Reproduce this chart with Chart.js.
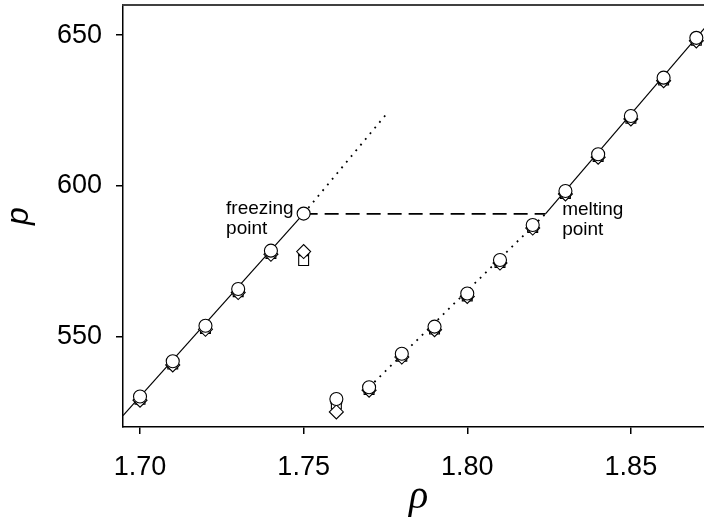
<!DOCTYPE html>
<html>
<head>
<meta charset="utf-8">
<style>
html,body{margin:0;padding:0;background:#fff;overflow:hidden;width:704px;height:521px}
#wrap{position:relative;width:714px;height:521px}
</style>
<script src="https://cdn.jsdelivr.net/npm/chart.js@4/dist/chart.umd.min.js"></script>
</head>
<body>
<div id="wrap"><canvas id="c" width="714" height="521"></canvas></div>
<script>
// ---- data ----
const densities = [1.70, 1.71, 1.72, 1.73, 1.74, 1.75, 1.76, 1.77, 1.78, 1.79, 1.80, 1.81, 1.82, 1.83, 1.84, 1.85, 1.86, 1.87];
const pCircle   = [530.1, 541.8, 553.6, 565.8, 578.5, 590.8, 529.3, 533.2, 544.3, 553.3, 564.3, 575.4, 587.0, 598.3, 610.5, 623.2, 635.9, 649.1];
const pDiamond  = [528.9, 540.6, 552.4, 564.6, 577.3, 578.2, 525.0, 532.2, 543.2, 552.3, 563.3, 574.4, 586.0, 597.3, 609.5, 622.2, 634.9, 648.1];
const pSquare   = [529.2, 540.9, 552.7, 564.9, 577.6, 575.2, 527.6, 532.4, 543.5, 552.5, 563.5, 574.6, 586.2, 597.5, 609.7, 622.4, 635.1, 648.3];
const pTriangle = [529.0, 540.7, 552.5, 564.7, 577.4, 576.4, 526.8, 532.3, 543.1, 552.4, 563.4, 574.5, 586.1, 597.4, 609.6, 622.3, 635.0, 648.2];

const freezeSolidRho = [1.6948, 1.75];
const freezeSolidP   = [523.8, 590.8];
const freezeDotRho   = [1.75, 1.7752];
const freezeDotP     = [590.8, 623.7];
const coexRho        = [1.75, 1.8239];
const coexP          = [590.7, 590.7];
const meltDotRho     = [1.77, 1.8239];
const meltDotP       = [533.2, 590.7];
const meltSolidRho   = [1.8239, 1.8754];
const meltSolidP     = [590.7, 656.0];

const xTicks = [1.70, 1.75, 1.80, 1.85];
const yTicks = [550, 600, 650];

const xTitle = 'ρ';
const yTitle = 'p';
const labelFreeze = ['freezing', 'point'];
const labelMelt = ['melting', 'point'];

// ---- helpers ----
const pts = (xs, ys) => xs.map((x, i) => ({x: x, y: ys[i]}));

const markerBase = {
  showLine: false, backgroundColor: '#fff', borderColor: '#000', borderWidth: 1.1
};
const lineBase = {
  pointRadius: 0, showLine: true, borderColor: '#000', borderWidth: 1.2, fill: false, tension: 0
};

const annotationPlugin = {
  id: 'annot',
  afterDatasetsDraw(chart) {
    const ctx = chart.ctx, xs = chart.scales.x, ys = chart.scales.y;
    ctx.save();
    ctx.fillStyle = '#000';
    ctx.font = '19px "Liberation Sans", Arial, sans-serif';
    ctx.textAlign = 'left';
    ctx.textBaseline = 'alphabetic';
    const fx = xs.getPixelForValue(1.7263);
    ctx.fillText(labelFreeze[0], fx, ys.getPixelForValue(590.7));
    ctx.fillText(labelFreeze[1], fx, ys.getPixelForValue(584.1));
    const mx = xs.getPixelForValue(1.8290);
    ctx.fillText(labelMelt[0], mx, ys.getPixelForValue(590.4));
    ctx.fillText(labelMelt[1], mx, ys.getPixelForValue(583.8));
    // top frame line
    const a = chart.chartArea;
    ctx.strokeStyle = '#404040';
    ctx.lineWidth = 2;
    ctx.beginPath();
    ctx.moveTo(a.left - 0.75, a.top);
    ctx.lineTo(chart.width, a.top);
    ctx.stroke();
    ctx.restore();
  }
};

const tickFont = {family: '"Liberation Sans", Arial, sans-serif', size: 27};

new Chart(document.getElementById('c'), {
  type: 'scatter',
  data: {
    datasets: [
      Object.assign({}, markerBase, {label: 'circle', data: pts(densities, pCircle), pointStyle: 'circle', pointRadius: 6.5}),
      Object.assign({}, markerBase, {label: 'diamond', data: pts(densities, pDiamond), pointStyle: 'rectRot', pointRadius: 7}),
      Object.assign({}, markerBase, {label: 'square', data: pts(densities, pSquare), pointStyle: 'rect', pointRadius: 7}),
      Object.assign({}, markerBase, {label: 'triangle', data: pts(densities, pTriangle), pointStyle: 'triangle', pointRotation: 180, pointRadius: 6}),
      Object.assign({}, lineBase, {label: 'freeze', data: pts(freezeSolidRho, freezeSolidP)}),
      Object.assign({}, lineBase, {label: 'freezeExt', data: pts(freezeDotRho, freezeDotP), borderDash: [1.8, 5.6], borderWidth: 1.8}),
      Object.assign({}, lineBase, {label: 'coex', data: pts(coexRho, coexP), borderDash: [14, 7], borderWidth: 1.6}),
      Object.assign({}, lineBase, {label: 'meltExt', data: pts(meltDotRho, meltDotP), borderDash: [1.8, 5.6], borderWidth: 1.8}),
      Object.assign({}, lineBase, {label: 'melt', data: pts(meltSolidRho, meltSolidP)})
    ]
  },
  options: {
    responsive: false,
    animation: false,
    devicePixelRatio: 1,
    layout: {autoPadding: false, padding: {top: 5, left: 0, right: 0, bottom: 0}},
    plugins: {legend: {display: false}, tooltip: {enabled: false}},
    scales: {
      x: {
        type: 'linear', min: 1.6948, max: 1.8754,
        afterBuildTicks: s => { s.ticks = xTicks.map(v => ({value: v})); },
        afterFit: s => { s.height = 94; s.paddingLeft = 0; s.paddingRight = 0; },
        ticks: {font: tickFont, color: '#000', padding: 17, maxRotation: 0, callback: v => Number(v).toFixed(2)},
        grid: {display: true, drawOnChartArea: false, drawTicks: true, tickLength: 7, color: '#000', lineWidth: 1.5},
        border: {display: true, color: '#000', width: 1.5},
        title: {display: true, text: xTitle, color: '#000',
          font: {family: '"Liberation Serif", "Times New Roman", serif', style: 'italic', size: 40},
          padding: {top: 0, bottom: 0}}
      },
      y: {
        type: 'linear', min: 520, max: 660,
        afterBuildTicks: s => { s.ticks = yTicks.map(v => ({value: v})); },
        afterFit: s => { s.width = 123; s.paddingTop = 0; s.paddingBottom = 0; },
        ticks: {font: tickFont, color: '#000', padding: 14, callback: v => String(v)},
        grid: {display: true, drawOnChartArea: false, drawTicks: true, tickLength: 7, color: '#000', lineWidth: 1.5},
        border: {display: true, color: '#000', width: 1.5},
        title: {display: true, text: yTitle, color: '#000',
          font: {family: '"Liberation Sans", Arial, sans-serif', style: 'italic', size: 32},
          padding: {top: 0, bottom: 0}}
      }
    }
  },
  plugins: [annotationPlugin]
});
</script>
</body>
</html>
